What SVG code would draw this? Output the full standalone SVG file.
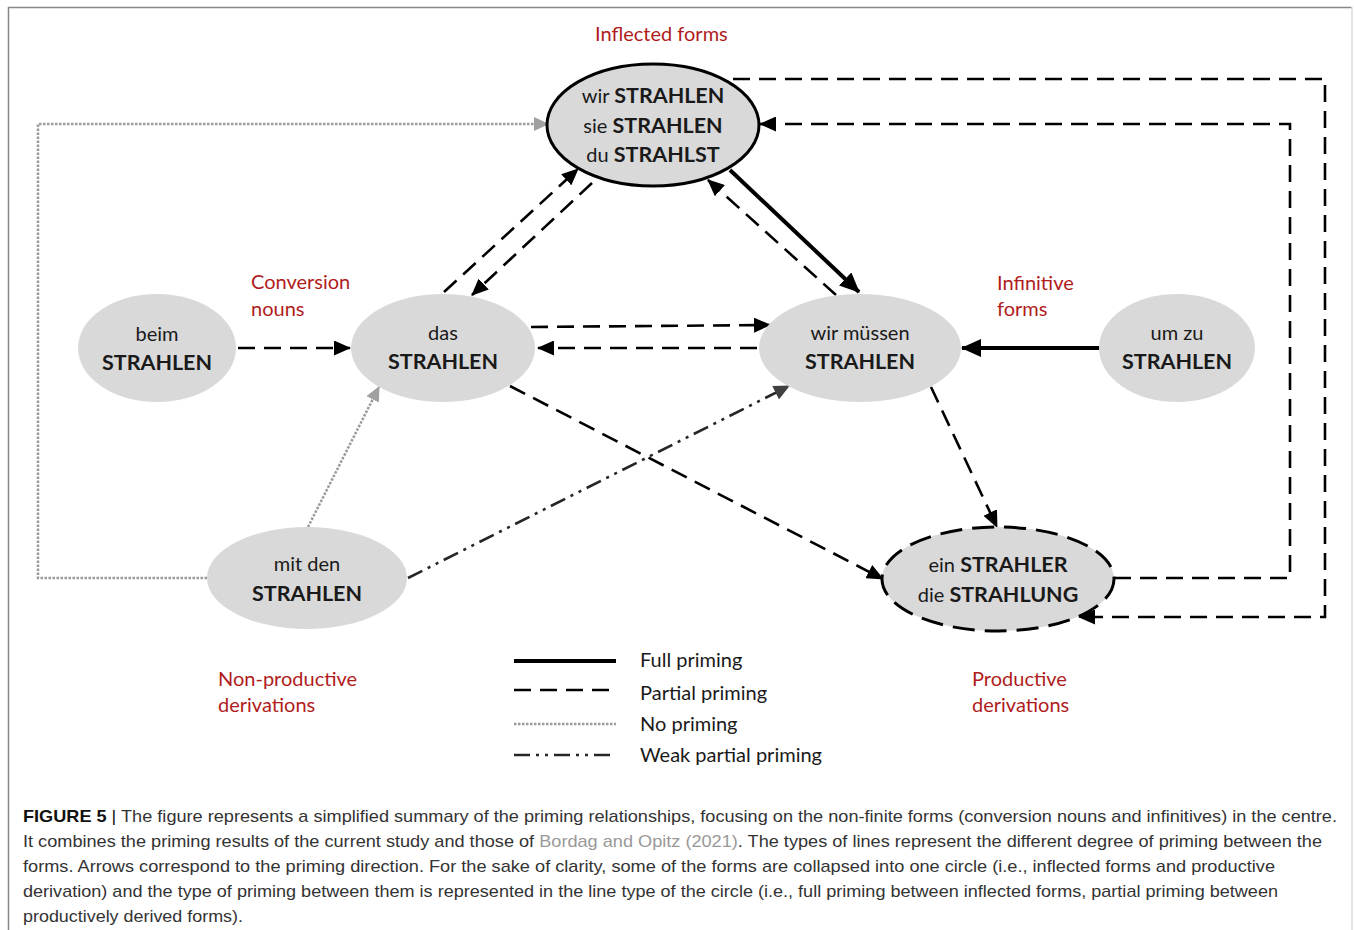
<svg xmlns="http://www.w3.org/2000/svg" width="1354" height="930" viewBox="0 0 1354 930">
<style>
.node{fill:#d9d9d9}
.t{font-family:Lato,"Open Sans","Liberation Sans",sans-serif;fill:#1a1a1a;text-anchor:middle}
.n{font-size:20px}
.b{font-size:21.5px;font-weight:bold}
.red{font-family:Lato,"Open Sans","Liberation Sans",sans-serif;font-size:20px;fill:#b01c1c}
.leg{font-family:Lato,"Open Sans","Liberation Sans",sans-serif;font-size:20px;fill:#1a1a1a}
.full{stroke:#000;stroke-width:4;fill:none}
.part{stroke:#000;stroke-width:2.6;fill:none;stroke-dasharray:17 9}
.none{stroke:#999;stroke-width:2.5;fill:none;stroke-dasharray:2.5 1.5}
.weak{stroke:#262626;stroke-width:2.6;fill:none;stroke-dasharray:16 6 3 6 3 6}
.cap{font-family:"Liberation Sans",Arial,sans-serif;font-size:17px;fill:#333}
</style>
<defs>
<marker id="ah" markerUnits="userSpaceOnUse" markerWidth="17" markerHeight="15" refX="16" refY="7.5" orient="auto"><path d="M0,0 L17,7.5 L0,15 z" fill="#000"/></marker>
<marker id="ahF" markerUnits="userSpaceOnUse" markerWidth="20" markerHeight="18" refX="19" refY="9" orient="auto"><path d="M0,0 L20,9 L0,18 z" fill="#000"/></marker>
<marker id="ahG" markerUnits="userSpaceOnUse" markerWidth="15" markerHeight="14" refX="14" refY="7" orient="auto"><path d="M0,0 L15,7 L0,14 z" fill="#a0a0a0"/></marker>
<marker id="ahD" markerUnits="userSpaceOnUse" markerWidth="16" markerHeight="15" refX="15" refY="7.5" orient="auto"><path d="M0,0 L16,7.5 L0,15 z" fill="#404040"/></marker>
</defs>
<rect width="1354" height="930" fill="#fff"/>
<g id="frame" fill="none">
<line x1="8" y1="7.5" x2="1352" y2="7.5" stroke="#888" stroke-width="1.5"/>
<line x1="8.5" y1="7" x2="8.5" y2="930" stroke="#888" stroke-width="1.5"/>
<line x1="1352" y1="7" x2="1352" y2="930" stroke="#ddd" stroke-width="1.5"/>
</g>
<g id="connectors">
<line class="part" x1="238" y1="348" x2="350" y2="348" marker-end="url(#ah)"/>
<line class="part" x1="531" y1="327" x2="770" y2="325" marker-end="url(#ah)"/>
<line class="part" x1="757" y1="348" x2="538" y2="348" marker-end="url(#ah)"/>
<line class="part" x1="444" y1="292" x2="578" y2="169" marker-end="url(#ah)"/>
<line class="part" x1="592" y1="183" x2="472" y2="295" marker-end="url(#ah)"/>
<line class="full" x1="730" y1="170" x2="859" y2="292" marker-end="url(#ahF)"/>
<line class="part" x1="836" y1="295" x2="708" y2="180" marker-end="url(#ah)"/>
<line class="full" x1="1099" y1="348" x2="962" y2="348" marker-end="url(#ahF)"/>
<line class="part" x1="931" y1="387" x2="997" y2="527" marker-end="url(#ah)"/>
<line class="part" x1="510" y1="386" x2="883" y2="579" marker-end="url(#ah)"/>
<line class="weak" x1="408" y1="578" x2="789" y2="386" marker-end="url(#ahD)"/>
<line class="none" x1="308" y1="527" x2="379" y2="387" marker-end="url(#ahG)"/>
<polyline class="none" points="207,578 38,578 38,124 548,124" marker-end="url(#ahG)"/>
<polyline class="part" points="733,79 1325,79 1325,617 1079,617" marker-end="url(#ah)"/>
<polyline class="part" points="1114,578 1290,578 1290,124 760,124" marker-end="url(#ah)"/>
</g>
<g id="inflected">
<ellipse class="node" cx="653" cy="125" rx="106" ry="61" stroke="#000" stroke-width="3"/>
<text class="t" x="653" y="103"><tspan class="n">wir </tspan><tspan class="b">STRAHLEN</tspan></text>
<text class="t" x="653" y="133"><tspan class="n">sie </tspan><tspan class="b">STRAHLEN</tspan></text>
<text class="t" x="653" y="162"><tspan class="n">du </tspan><tspan class="b">STRAHLST</tspan></text>
</g>
<g id="beim">
<ellipse class="node" cx="157" cy="348" rx="79" ry="54"/>
<text class="t n" x="157" y="341">beim</text>
<text class="t b" x="157" y="370">STRAHLEN</text>
</g>
<g id="das">
<ellipse class="node" cx="443" cy="348" rx="92" ry="54"/>
<text class="t n" x="443" y="340">das</text>
<text class="t b" x="443" y="369">STRAHLEN</text>
</g>
<g id="wirmuessen">
<ellipse class="node" cx="860" cy="348" rx="101" ry="54"/>
<text class="t n" x="860" y="340">wir müssen</text>
<text class="t b" x="860" y="369">STRAHLEN</text>
</g>
<g id="umzu">
<ellipse class="node" cx="1177" cy="348" rx="78" ry="54"/>
<text class="t n" x="1177" y="340">um zu</text>
<text class="t b" x="1177" y="369">STRAHLEN</text>
</g>
<g id="mitden">
<ellipse class="node" cx="307" cy="578" rx="100" ry="51"/>
<text class="t n" x="307" y="571">mit den</text>
<text class="t b" x="307" y="601">STRAHLEN</text>
</g>
<g id="productive">
<ellipse class="node" cx="998" cy="579" rx="116" ry="52" stroke="#000" stroke-width="3" stroke-dasharray="22 10"/>
<text class="t" x="998" y="572"><tspan class="n">ein </tspan><tspan class="b">STRAHLER</tspan></text>
<text class="t" x="998" y="602"><tspan class="n">die </tspan><tspan class="b">STRAHLUNG</tspan></text>
</g>
<g id="labels">
<text class="red" x="595" y="41">Inflected forms</text>
<text class="red" x="251" y="289">Conversion</text>
<text class="red" x="251" y="316">nouns</text>
<text class="red" x="997" y="290">Infinitive</text>
<text class="red" x="997" y="316">forms</text>
<text class="red" x="218" y="686">Non-productive</text>
<text class="red" x="218" y="712">derivations</text>
<text class="red" x="972" y="686">Productive</text>
<text class="red" x="972" y="712">derivations</text>
</g>
<g id="legend">
<line class="full" x1="514" y1="661" x2="616" y2="661" stroke-width="5"/>
<line class="part" x1="514" y1="690" x2="616" y2="690" stroke-dasharray="21 6.5"/>
<line class="none" x1="514" y1="724" x2="616" y2="724"/>
<line class="weak" x1="514" y1="755" x2="616" y2="755" stroke-dasharray="21 4 3 4 3 5"/>
<text class="leg" x="640" y="667">Full priming</text>
<text class="leg" x="640" y="700">Partial priming</text>
<text class="leg" x="640" y="731">No priming</text>
<text class="leg" x="640" y="762">Weak partial priming</text>
</g>
<g id="caption">
<text class="cap" x="23" y="822" textLength="1314" lengthAdjust="spacingAndGlyphs"><tspan font-weight="bold" fill="#111">FIGURE 5</tspan><tspan fill="#111">  |  </tspan>The figure represents a simplified summary of the priming relationships, focusing on the non-finite forms (conversion nouns and infinitives) in the centre.</text>
<text class="cap" x="23" y="847" textLength="1299" lengthAdjust="spacingAndGlyphs">It combines the priming results of the current study and those of <tspan fill="#999">Bordag and Opitz (2021)</tspan>. The types of lines represent the different degree of priming between the</text>
<text class="cap" x="23" y="872" textLength="1252" lengthAdjust="spacingAndGlyphs">forms. Arrows correspond to the priming direction. For the sake of clarity, some of the forms are collapsed into one circle (i.e., inflected forms and productive</text>
<text class="cap" x="23" y="897" textLength="1255" lengthAdjust="spacingAndGlyphs">derivation) and the type of priming between them is represented in the line type of the circle (i.e., full priming between inflected forms, partial priming between</text>
<text class="cap" x="23" y="922" textLength="220" lengthAdjust="spacingAndGlyphs">productively derived forms).</text>
</g>
</svg>
